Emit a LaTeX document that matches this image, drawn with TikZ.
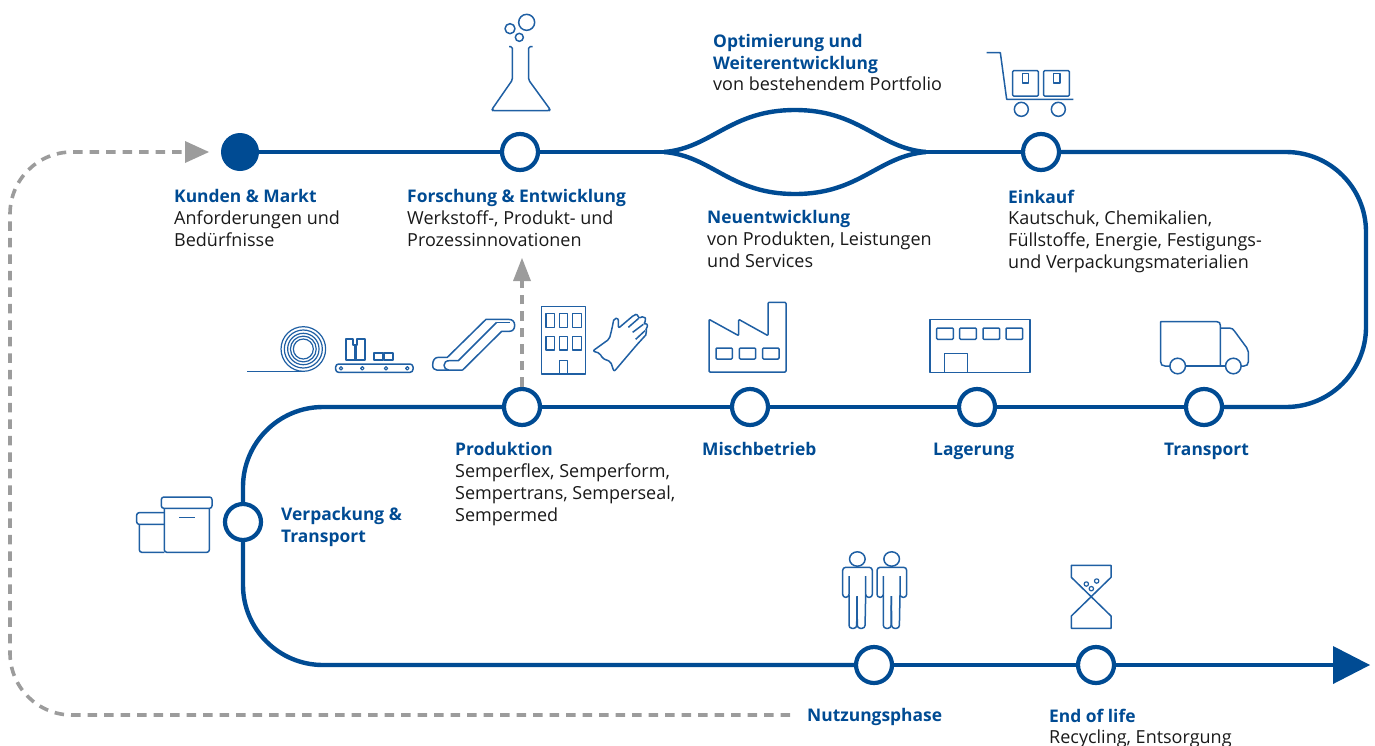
\documentclass[tikz,border=0pt]{standalone}
\usepackage{fontspec}
\setmainfont{Open Sans}
\usetikzlibrary{arrows.meta}
\definecolor{sblue}{HTML}{004B93}
\definecolor{sgray}{HTML}{9C9C9C}
\definecolor{icon}{HTML}{1F5FA3}
\tikzset{
 main/.style={draw=sblue,line width=4.4pt},
 station/.style={circle,draw=sblue,fill=white,line width=4.2pt,minimum size=36pt,inner sep=0pt},
 startdot/.style={circle,fill=sblue,minimum size=38pt,inner sep=0pt},
 gdash/.style={draw=sgray,line width=3.6pt,dash pattern=on 9.5pt off 7pt,rounded corners=62pt},
 lab/.style={anchor=north west,inner sep=0pt,align=left,yshift=-3.5pt,font=\fontsize{18}{21.6}\selectfont,text=black!90},
 ttl/.style={anchor=north west,inner sep=0pt,align=left,yshift=-3.5pt,text=sblue,font=\fontsize{17.4}{21.6}\selectfont\bfseries},
 ic/.style={draw=icon,line width=1.5pt,line join=round},
 zoomat/.style n args={2}{shift={(#1,#2)},x=0.33333pt,y=-0.33333pt},
}
\begin{document}
\begin{tikzpicture}[x=1pt,y=-1pt]
\clip (0,0) rectangle (1375,745);
\useasboundingbox (0,0) rectangle (1375,745);
% stations
\node[startdot] (kunden) at (240,152) {};
\node[station] (fe) at (520,152) {};
\node[station] (einkauf) at (1041,152) {};
\node[station] (prod) at (522,407) {};
\node[station] (misch) at (750,407) {};
\node[station] (lager) at (977,407) {};
\node[station] (trans) at (1204,407) {};
\node[station] (verp) at (243,522) {};
\node[station] (nutz) at (874,665) {};
\node[station] (eol) at (1096,665) {};
\coordinate (spl) at (664,152);
\coordinate (mrg) at (926,152);
\coordinate (ctr) at (1366,152);
\coordinate (cbr) at (1366,407);
\coordinate (ctl) at (243,407);
\coordinate (cbl) at (243,665);
\coordinate (tipbase) at (1334,665);
% main line
\draw[main] (kunden) -- (fe);
\draw[main] (fe) -- (spl);
\draw[main] (spl) .. controls (712,148) and (730,110) .. (795,110) .. controls (860,110) and (878,148) .. (mrg);
\draw[main] (spl) .. controls (712,156) and (730,194) .. (795,194) .. controls (860,194) and (878,156) .. (mrg);
\draw[main] (mrg) -- (einkauf);
\draw[main,rounded corners=80pt] (einkauf) -- (ctr) -- (cbr) -- (trans);
\draw[main] (trans) -- (lager);
\draw[main] (lager) -- (misch);
\draw[main] (misch) -- (prod);
\draw[main,rounded corners=80pt] (prod) -- (ctl) -- (verp);
\draw[main,rounded corners=80pt] (verp) -- (cbl) -- (nutz);
\draw[main] (nutz) -- (eol);
\draw[main] (eol) -- (tipbase);
\fill[sblue] (1333,646) -- (1370,665) -- (1333,684) -- cycle;
% labels
\node[ttl] (t1) at (713,30.5) {Optimierung und\\Weiterentwicklung};
\node[lab] (t1b) at (713,73.5) {von bestehendem Portfolio};
\node[ttl] (t2) at (174,186) {Kunden \& Markt};
\node[lab] (t2b) at (174,207.5) {Anforderungen und\\Bedürfnisse};
\node[ttl] (t3) at (407,186) {Forschung \& Entwicklung};
\node[lab] (t3b) at (407,207.5) {Werkstoff-, Produkt- und\\Prozessinnovationen};
\node[ttl] (t4) at (707,207) {Neuentwicklung};
\node[lab] (t4b) at (707,228.5) {von Produkten, Leistungen\\und Services};
\node[ttl] (t5) at (1008,186) {Einkauf};
\node[lab] (t5b) at (1008,207.5) {Kautschuk, Chemikalien,\\Füllstoffe, Energie, Festigungs-\\und Verpackungsmaterialien};
\node[ttl] (t6) at (455,439) {Produktion};
\node[lab] (t6b) at (455,460.5) {Semperflex, Semperform,\\Sempertrans, Semperseal,\\Sempermed};
\node[ttl] (t7) at (702,439) {Mischbetrieb};
\node[ttl] (t8) at (933,439) {Lagerung};
\node[ttl] (t9) at (1164,439) {Transport};
\node[ttl] (t10) at (281,504) {Verpackung \&\\Transport};
\node[ttl] (t11) at (807,705) {Nutzungsphase};
\node[ttl] (t12) at (1049,705) {End of life};
\node[lab] (t12b) at (1049,726.5) {Recycling, Entsorgung};
% dashed returns
\coordinate (dstart) at (790,715);
\coordinate (dl) at (10,152);
\coordinate (db) at (10,715);
\coordinate (kin) at (185,152);
\draw[gdash] (dstart) -- (db) -- (dl) -- (kin);
\fill[sgray] (185,141) -- (209,152) -- (185,163) -- cycle;
\coordinate (fup) at (522,281);
\draw[gdash] (prod.north) -- (fup);
\fill[sgray] (513,281) -- (522,258) -- (531,281) -- cycle;
% flask
\begin{scope}[zoomat={470}{0}]
\draw[ic] (170,67) circle (8pt);
\draw[ic] (120,86) circle (5pt);
\draw[ic] (148,112) circle (4pt);
\draw[ic,rounded corners=1.5pt] (117,140) -- (127,140) -- (127,240) -- (66,328) -- (68,332) -- (238,332) -- (240,328) -- (176,240) -- (176,140) -- (188,140);
\end{scope}
% cart
\begin{scope}[zoomat={970}{40}]
\draw[ic] (50,38) -- (91,38) -- (110,178) -- (310,178);
\draw[ic,rounded corners=1pt] (128,92) rectangle (205,168);
\draw[ic,rounded corners=1pt] (221,92) rectangle (298,168);
\draw[ic] (157,100) rectangle (176,129);
\draw[ic] (251,100) rectangle (270,129);
\draw[ic] (154,208) circle (7pt);
\draw[ic] (265,208) circle (7pt);
\end{scope}
% factory and warehouse
\begin{scope}[zoomat={690}{290}]
\draw[ic,rounded corners=1pt] (57,246) -- (57,88) -- (146,137) -- (146,88) -- (234,137) -- (234,37) -- (288,37) -- (288,246) -- cycle;
\foreach \a/\b in {78/127,148/197,218/267}{\draw[ic,rounded corners=1pt] (\a,174) rectangle (\b,207);}
\draw[ic] (720,88) rectangle (1020,248);
\foreach \a/\b in {740/790,809/859,879/929,948/998}{\draw[ic,rounded corners=1pt] (\a,114) rectangle (\b,148);}
\draw[ic] (764,248) -- (764,190) -- (833,190) -- (833,248);
\end{scope}
% truck
\begin{scope}[zoomat={1140}{300}]
\draw[ic] (90,198) -- (75,198) .. controls (66,198) and (62,194) .. (62,185) -- (62,65) -- (230,65) .. controls (238,65) and (241,69) .. (241,76) -- (241,198);
\draw[ic] (137,198) -- (257,198);
\draw[ic] (241,84) -- (268,84) .. controls (276,84) and (280,88) .. (284,94) -- (320,143) .. controls (324,148) and (325,150) .. (325,156) -- (325,185) .. controls (325,194) and (320,198) .. (312,198) -- (303,198);
\draw[ic] (113,198) circle (7.8pt);
\draw[ic] (280,198) circle (7.8pt);
\end{scope}
% boxes
\begin{scope}[zoomat={120}{480}]
\draw[ic,rounded corners=2.5pt] (124,51) rectangle (276,85);
\draw[ic,rounded corners=2.5pt] (133,85) -- (133,217) -- (268,217) -- (268,85);
\draw[ic] (178,113) -- (225,113);
\draw[ic,rounded corners=2.5pt] (133,98) -- (50,98) -- (50,133) -- (133,133);
\draw[ic,rounded corners=2.5pt] (58,133) -- (58,217) -- (133,217);
\end{scope}
% people and hourglass
\begin{scope}[zoomat={820}{540}]
\foreach \d in {0,103}{
\begin{scope}[xshift=\d*0.33333pt]
\draw[ic] (112,57) ellipse (7.8pt and 7.2pt);
\draw[ic,rounded corners=3pt] (87,108) -- (87,172) -- (68,172) -- (68,82) -- (157,82) -- (157,172) -- (137,172) -- (137,108);
\draw[ic,rounded corners=3pt] (87,165) -- (87,265) -- (110,265) -- (111,168);
\draw[ic,rounded corners=3pt] (111,168) -- (112,265) -- (135,265) -- (137,165);
\end{scope}}
\draw[ic] (754,76) -- (873,76) -- (873,112) -- (754,228) -- (754,265) -- (873,265) -- (873,228) -- (754,112) -- cycle;
\draw[ic,line width=1.2pt] (799,132) circle (2.2pt);
\draw[ic,line width=1.2pt] (814,146) circle (2.2pt);
\draw[ic,line width=1.2pt] (830,123) circle (2.2pt);
\end{scope}
% production icons
\begin{scope}[zoomat={240}{290}]
\foreach \r in {22.3,19,15.7,12.9,10}{\draw[ic,line width=1.2pt] (190,177) circle (\r pt);}
\draw[ic] (22,245) -- (190,245);
\draw[ic,rounded corners=3pt] (287,222) rectangle (519,247);
\foreach \a in {303,367,438,502}{\draw[ic,line width=1.2pt] (\a,235) circle (1.7pt);}
\draw[ic,line width=1.9pt] (338,211) -- (317,211) -- (317,146) -- (340,146) -- (340,165) -- (352,165) -- (352,146) -- (375,146) -- (375,211) -- (338,211);
\draw[ic,line width=2.6pt] (346,165) -- (346,211);
\draw[ic,line width=1.9pt] (403,188) rectangle (429,211);
\draw[ic,line width=1.9pt] (433,188) rectangle (460,211);
\draw[ic] (668,240) -- (590,240) .. controls (583,240) and (578,235) .. (578,225) .. controls (578,210) and (585,202) .. (595,202) -- (622,202) -- (738,88) -- (805,88) .. controls (818,88) and (824,95) .. (824,106) .. controls (824,117) and (818,124) .. (808,124) -- (785,124) -- (668,240);
\draw[ic] (770,97) -- (810,97);
\draw[ic] (770,97) -- (655,212) -- (628,212) .. controls (618,212) and (612,218) .. (612,226) .. controls (612,234) and (618,240) .. (626,240);
\draw[ic] (905,50) rectangle (1037,252);
\foreach \a/\b in {918/943,958/983,998/1024}{\draw[ic] (\a,71) rectangle (\b,112);\draw[ic] (\a,140) rectangle (\b,180);}
\draw[ic] (958,252) -- (958,212) -- (983,212) -- (983,252);
\draw[ic,rounded corners=2pt] (1058,183) -- (1108,147) -- (1115,120) -- (1122,85) -- (1135,85) -- (1135,115) -- (1182,75) -- (1192,72) -- (1196,85) -- (1212,78) -- (1219,90) -- (1210,103) -- (1222,100) -- (1222,115) -- (1215,122) -- (1222,130) -- (1190,165) -- (1122,245) -- (1112,215) -- (1087,205) -- (1080,190) -- cycle;
\draw[ic] (1165,112) -- (1196,85);
\draw[ic] (1178,127) -- (1210,103);
\draw[ic] (1187,148) -- (1215,122);
\end{scope}
\end{tikzpicture}
\end{document}
